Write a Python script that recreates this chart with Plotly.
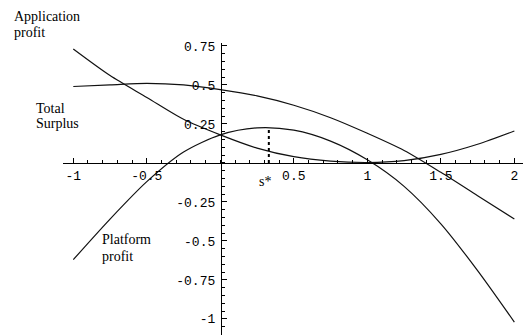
import plotly.graph_objects as go

# values
s = [-1.0, -0.75, -0.5, -0.25, 0.0, 0.25, 0.5, 0.75, 1.0, 1.25, 1.5, 1.75, 2.0]
application_profit = [0.73, 0.56, 0.42, 0.28, 0.18, 0.095, 0.04, 0.012, 0.003, 0.015, 0.055, 0.12, 0.205]
total_surplus = [0.49, 0.50, 0.51, 0.50, 0.47, 0.43, 0.37, 0.29, 0.19, 0.08, -0.06, -0.21, -0.36]
platform_profit = [-0.62, -0.36, -0.12, 0.07, 0.18, 0.225, 0.21, 0.14, 0.02, -0.15, -0.39, -0.69, -1.02]

s_star = 0.33
s_star_profit = 0.227

x_tickvals = [-1, -0.5, 0.5, 1, 1.5, 2]
x_ticktext = ["-1", "-0.5", "0.5", "1", "1.5", "2"]
y_tickvals = [0.75, 0.5, 0.25, -0.25, -0.5, -0.75, -1]
y_ticktext = ["0.75", "0.5", "0.25", "-0.25", "-0.5", "-0.75", "-1"]

# the page body keeps its default 8px margin, so the figure is 8px smaller
OFF = 8
W, H = 531 - OFF, 335 - OFF


def px(x):
    return (x - OFF) / W


def py(y):
    return 1 - (y - OFF) / H


line = dict(color="#111", width=1.2, shape="spline", smoothing=0.8)

fig = go.Figure()
for ys in (application_profit, total_surplus, platform_profit):
    fig.add_trace(go.Scatter(x=s, y=ys, mode="lines", line=line, hoverinfo="skip"))
fig.add_trace(go.Scatter(
    x=[s_star, s_star], y=[0, s_star_profit], mode="lines",
    line=dict(color="black", width=2, dash="dot"), hoverinfo="skip",
))

tick_font = dict(family="Liberation Mono", size=13, color="black")
axis_common = dict(
    showline=True, linecolor="black", linewidth=1.3, showgrid=False, zeroline=False,
    ticks="inside", ticklen=5, tickwidth=1, tickcolor="black", tickfont=tick_font,
    anchor="free", automargin=False, ticklabeloverflow="allow",
)

fig.update_layout(
    width=W, height=H,
    margin=dict(l=0, r=0, t=0, b=0),
    plot_bgcolor="white", paper_bgcolor="white",
    showlegend=False,
    xaxis=dict(
        axis_common, domain=[px(63), px(527)], range=[-1.07, 2.086],
        position=py(163), tickmode="array",
        tickvals=x_tickvals, ticktext=x_ticktext,
        minor=dict(dtick=0.1, ticks="inside", ticklen=3, tickcolor="black"),
    ),
    yaxis=dict(
        axis_common, domain=[0, py(43)], range=[-1.103, 0.769],
        position=px(221), tickmode="array", ticklabelstandoff=3,
        tickvals=y_tickvals, ticktext=y_ticktext,
        minor=dict(dtick=0.05, ticks="inside", ticklen=3, tickcolor="black"),
    ),
)

label_font = dict(family="Liberation Serif", size=14, color="black")
# (text, left x, vertical centre y) in window pixels
labels = [
    ("Application", 12, 16),
    ("profit", 12, 32),
    ("Total", 34, 108),
    ("Surplus", 34, 124),
    ("Platform", 100, 239),
    ("profit", 100, 256),
    ("s*", 257, 181),
]
for text, lx, ly in labels:
    fig.add_annotation(
        text=text, xref="paper", yref="paper", x=px(lx), y=py(ly),
        xanchor="left", yanchor="middle", showarrow=False, align="left",
        font=label_font,
    )
fig.add_annotation(
    text="s", xref="paper", yref="paper", x=1.0, y=py(149),
    xanchor="right", yanchor="middle", showarrow=False, font=label_font,
)

fig.write_html("out.html")
